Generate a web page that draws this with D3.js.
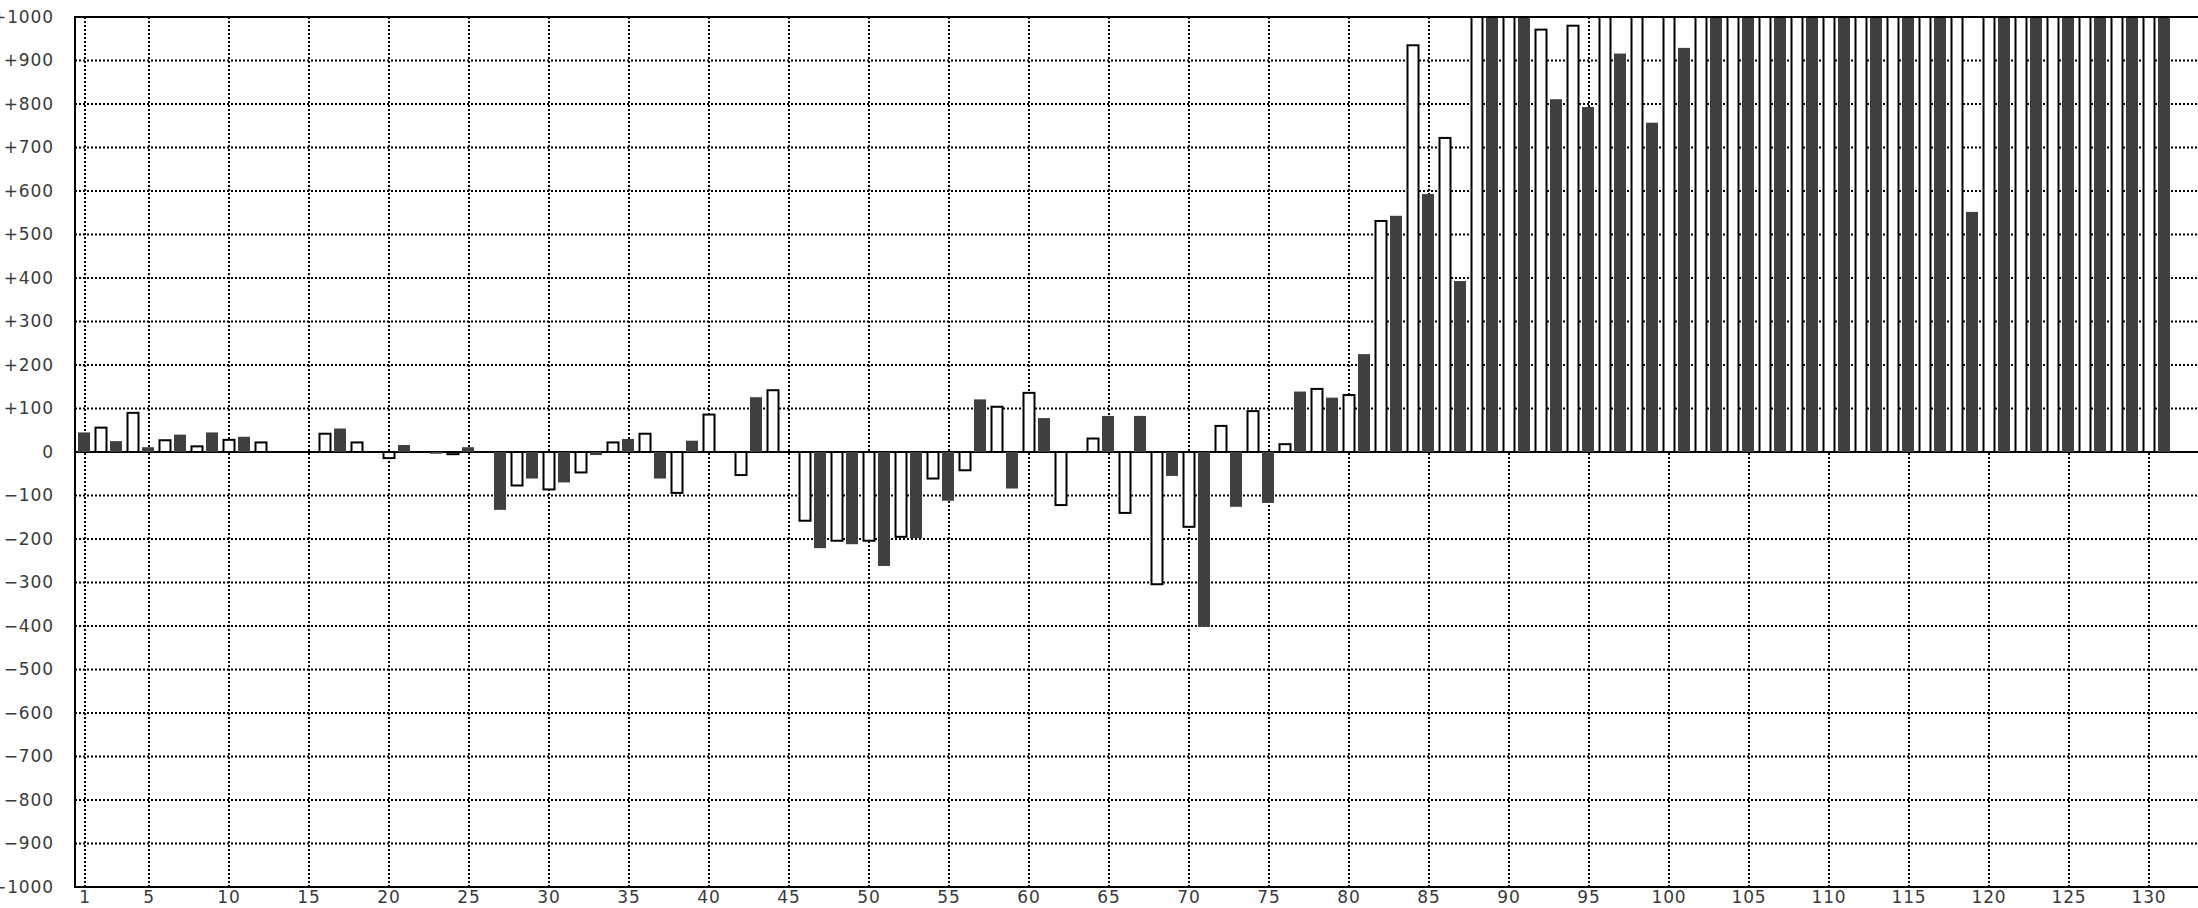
<!DOCTYPE html>
<html>
<head>
<meta charset="utf-8">
<script src="https://cdn.jsdelivr.net/npm/d3@7"></script>
<style>
  html, body { margin: 0; padding: 0; background: #ffffff; overflow: hidden; }
  svg { display: block; }
</style>
</head>
<body>
<svg id="chart" width="2198" height="908"></svg>
<script>
// ---------------- data ----------------
const categories = d3.range(1, 132); // 1 .. 131

// value per category (odd categories = dark bars, even categories = outlined bars)
const values = [
  45, 56, 25, 90, 11, 27, 40, 13, 45, 28,
  35, 22, 0, 0, 0, 42, 54, 22, 0, -14,
  16, 0, -4, -5, 11, 0, -133, -77, -61, -86,
  -70, -47, -7, 22, 30, 42, -61, -94, 26, 86,
  0, -53, 126, 142, 0, -158, -221, -204, -212, -204,
  -262, -195, -198, -61, -112, -42, 121, 104, -84, 136,
  78, -122, 0, 31, 83, -140, 83, -304, -55, -172,
  -402, 60, -126, 94, -117, 18, 139, 145, 125, 131,
  225, 531, 543, 935, 593, 722, 393, 1000, 1000, 1000,
  1000, 971, 811, 980, 793, 1000, 916, 1000, 757, 1000,
  929, 1000, 1000, 1000, 1000, 1000, 1000, 1000, 1000, 1000,
  1000, 1000, 1000, 1000, 1000, 1000, 1000, 1000, 552, 1000,
  1000, 1000, 1000, 1000, 1000, 1000, 1000, 1000, 1000, 1000,
  1000
];

const xTickValues = [1, 5, 10, 15, 20, 25, 30, 35, 40, 45, 50, 55, 60, 65,
  70, 75, 80, 85, 90, 95, 100, 105, 110, 115, 120, 125, 130];

const yTickValues = [1000, 900, 800, 700, 600, 500, 400, 300, 200, 100, 0,
  -100, -200, -300, -400, -500, -600, -700, -800, -900, -1000];
const yTickLabels = ["+1000", "+900", "+800", "+700", "+600", "+500", "+400",
  "+300", "+200", "+100", "0", "\u2212100", "\u2212200", "\u2212300", "\u2212400",
  "\u2212500", "\u2212600", "\u2212700", "\u2212800", "\u2212900", "\u22121000"];

(function () {
// ---------------- layout ----------------
const W = 2198, H = 908;
const pLeft = 75, pTop = 17, pBottom = 887, pRight = 2212;
const step = 16;

const svg = d3.select("#chart");

const x = d3.scaleBand()
  .domain(categories)
  .range([77, 77 + categories.length * step])
  .padding(0);
const cx = c => x(c) + x.bandwidth() / 2;

const y = d3.scaleLinear().domain([-1000, 1000]).range([pBottom, pTop]);

const data = categories.map((c, i) => ({ c, v: values[i], dark: c % 2 === 1 }));

// clip to plot area
svg.append("defs").append("clipPath").attr("id", "plotClip")
  .append("rect").attr("x", pLeft).attr("y", pTop)
  .attr("width", pRight - pLeft).attr("height", pBottom - pTop);

// ---------------- grid ----------------
const grid = svg.append("g").attr("class", "grid");
grid.selectAll("line.h")
  .data(yTickValues.filter(v => v !== 0 && Math.abs(v) !== 1000))
  .join("line").attr("class", "h")
  .attr("x1", pLeft).attr("x2", pRight)
  .attr("y1", d => y(d)).attr("y2", d => y(d))
  .attr("stroke", "#000").attr("stroke-width", 2)
  .attr("stroke-dasharray", "2,2");

grid.selectAll("line.v")
  .data(xTickValues)
  .join("line").attr("class", "v")
  .attr("x1", d => cx(d)).attr("x2", d => cx(d))
  .attr("y1", pTop).attr("y2", pBottom)
  .attr("stroke", "#000").attr("stroke-width", 2)
  .attr("stroke-dasharray", "2,2");

// zero line
svg.append("line")
  .attr("x1", pLeft).attr("x2", pRight)
  .attr("y1", y(0)).attr("y2", y(0))
  .attr("stroke", "#000").attr("stroke-width", 2);

// ---------------- bars ----------------
const bars = svg.append("g").attr("clip-path", "url(#plotClip)");

bars.selectAll("rect.dark")
  .data(data.filter(d => d.dark && d.v !== 0))
  .join("rect").attr("class", "dark")
  .attr("x", d => cx(d.c) - 7)
  .attr("width", 12)
  .attr("y", d => Math.min(y(d.v), y(0)))
  .attr("height", d => Math.abs(y(d.v) - y(0)))
  .attr("fill", "#404040");

bars.selectAll("rect.light")
  .data(data.filter(d => !d.dark && d.v !== 0))
  .join("rect").attr("class", "light")
  .attr("x", d => cx(d.c) - 5.5)
  .attr("width", 11)
  .attr("y", d => Math.min(y(d.v), y(0)))
  .attr("height", d => Math.abs(y(d.v) - y(0)))
  .attr("fill", "#ffffff")
  .attr("stroke", "#000")
  .attr("stroke-width", 2);

// ---------------- frame ----------------
svg.append("line").attr("x1", pLeft - 1).attr("x2", pRight).attr("y1", pTop).attr("y2", pTop)
  .attr("stroke", "#000").attr("stroke-width", 2);
svg.append("line").attr("x1", pLeft - 1).attr("x2", pRight).attr("y1", pBottom).attr("y2", pBottom)
  .attr("stroke", "#000").attr("stroke-width", 2);
svg.append("line").attr("x1", pLeft).attr("x2", pLeft).attr("y1", pTop).attr("y2", pBottom)
  .attr("stroke", "#000").attr("stroke-width", 2);

// ---------------- axes labels ----------------
const yAxis = d3.axisLeft(y)
  .tickValues(yTickValues)
  .tickFormat((d, i) => yTickLabels[i])
  .tickSize(0).tickPadding(0);

const gy = svg.append("g").attr("transform", "translate(54,0)").call(yAxis);
gy.select(".domain").remove();
gy.selectAll("text")
  .attr("font-family", "'DejaVu Sans', sans-serif")
  .attr("font-size", 17)
  .attr("letter-spacing", "0.9px")
  .attr("fill", "#3a3a3a");

const xAxis = d3.axisBottom(x)
  .tickValues(xTickValues)
  .tickFormat(d => String(d))
  .tickSize(0).tickPadding(0);

const gx = svg.append("g").attr("transform", "translate(0,891)").call(xAxis);
gx.select(".domain").remove();
gx.selectAll("text")
  .attr("font-family", "'DejaVu Sans', sans-serif")
  .attr("font-size", 17)
  .attr("letter-spacing", "0.9px")
  .attr("fill", "#3a3a3a");
})();
</script>
</body>
</html>
